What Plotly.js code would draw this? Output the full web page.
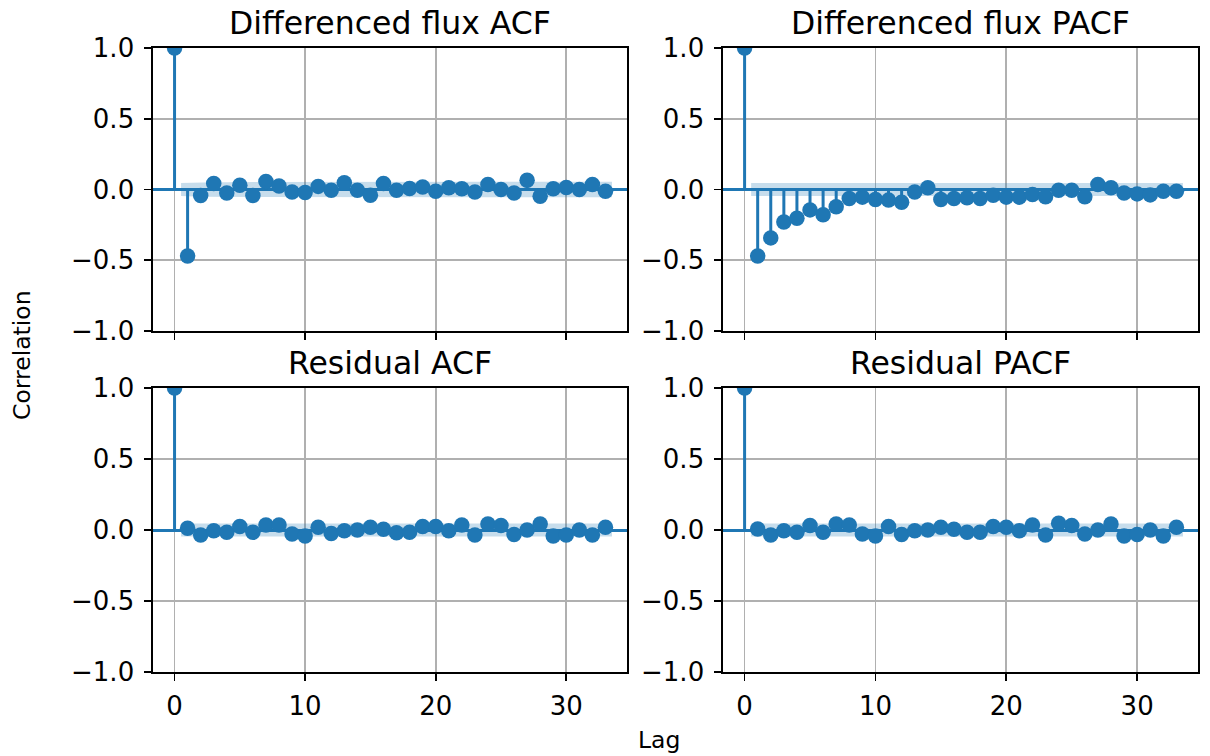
<!DOCTYPE html>
<html>
<head>
<meta charset="utf-8">
<script src="https://cdn.plot.ly/plotly-3.0.1.min.js"></script>
<style>html,body{margin:0;padding:0;background:#fff;}#chart{width:1210px;height:756px;}</style>
</head>
<body>
<div id="chart"></div>
<script>
// ---- data ----
const lags = [0,1,2,3,4,5,6,7,8,9,10,11,12,13,14,15,16,17,18,19,20,21,22,23,24,25,26,27,28,29,30,31,32,33];
const diffAcf = [1.0,-0.47,-0.042,0.042,-0.024,0.03,-0.042,0.057,0.024,-0.017,-0.021,0.022,-0.005,0.047,-0.005,-0.04,0.042,-0.005,0.007,0.017,-0.012,0.012,0.005,-0.017,0.035,0.0,-0.024,0.066,-0.047,0.005,0.014,0.0,0.035,-0.012];
const diffPacf = [1.0,-0.47,-0.342,-0.229,-0.203,-0.144,-0.179,-0.122,-0.064,-0.054,-0.071,-0.075,-0.09,-0.017,0.012,-0.071,-0.064,-0.059,-0.064,-0.04,-0.054,-0.054,-0.035,-0.052,-0.005,-0.005,-0.052,0.035,0.012,-0.024,-0.031,-0.038,-0.012,-0.012];
const residAcf = [1.0,0.012,-0.035,-0.005,-0.016,0.024,-0.016,0.035,0.035,-0.028,-0.042,0.019,-0.024,-0.005,0.0,0.019,0.005,-0.019,-0.016,0.024,0.024,-0.005,0.035,-0.035,0.042,0.031,-0.031,0.0,0.042,-0.042,-0.035,0.0,-0.035,0.019];
const residPacf = [1.0,0.007,-0.035,-0.005,-0.016,0.031,-0.016,0.042,0.035,-0.028,-0.042,0.024,-0.031,-0.005,0.0,0.019,0.005,-0.016,-0.016,0.024,0.019,-0.005,0.035,-0.035,0.047,0.031,-0.028,0.0,0.042,-0.042,-0.031,0.0,-0.042,0.019];
// half-width of 95% confidence band for lags 1..33
const diffAcfBand = [0.046,0.052,0.052,0.052,0.052,0.052,0.053,0.053,0.053,0.053,0.053,0.053,0.053,0.053,0.053,0.053,0.054,0.054,0.054,0.054,0.054,0.054,0.054,0.054,0.054,0.054,0.054,0.054,0.055,0.055,0.055,0.055,0.055];
const diffPacfBand = [0.046,0.046,0.046,0.046,0.046,0.046,0.046,0.046,0.046,0.046,0.046,0.046,0.046,0.046,0.046,0.046,0.046,0.046,0.046,0.046,0.046,0.046,0.046,0.046,0.046,0.046,0.046,0.046,0.046,0.046,0.046,0.046,0.046];
const residAcfBand = [0.045,0.045,0.045,0.045,0.045,0.045,0.045,0.045,0.045,0.045,0.045,0.045,0.045,0.045,0.045,0.045,0.045,0.045,0.045,0.045,0.045,0.045,0.045,0.045,0.045,0.045,0.045,0.045,0.045,0.045,0.045,0.045,0.045];
const residPacfBand = [0.045,0.045,0.045,0.045,0.045,0.045,0.045,0.045,0.045,0.045,0.045,0.045,0.045,0.045,0.045,0.045,0.045,0.045,0.045,0.045,0.045,0.045,0.045,0.045,0.045,0.045,0.045,0.045,0.045,0.045,0.045,0.045,0.045];
const titles = ["Differenced flux ACF","Differenced flux PACF","Residual ACF","Residual PACF"];
const xTicks = [0,10,20,30];
const yTicks = [-1.0,-0.5,0.0,0.5,1.0];

// ---- build ----
const BLUE = '#1f77b4';
const panels = [
  {vals: diffAcf, band: diffAcfBand, xa:'x', ya:'y'},
  {vals: diffPacf, band: diffPacfBand, xa:'x2', ya:'y2'},
  {vals: residAcf, band: residAcfBand, xa:'x3', ya:'y3'},
  {vals: residPacf, band: residPacfBand, xa:'x4', ya:'y4'}
];
const traces = [];
panels.forEach(p => {
  const bl = lags.slice(1).map((v,i,a)=> i===0 ? v-0.5 : (i===a.length-1 ? v+0.5 : v));
  const bx = bl.concat(bl.slice().reverse());
  const by = p.band.map(b=>b).concat(p.band.slice().reverse().map(b=>-b));
  traces.push({x: bx, y: by, xaxis:p.xa, yaxis:p.ya, type:'scatter', mode:'lines',
    fill:'toself', fillcolor:'rgba(31,119,180,0.25)', line:{width:0, color:'rgba(0,0,0,0)'}, hoverinfo:'skip', showlegend:false});
  const sx = [], sy = [];
  lags.forEach((l,i)=>{ sx.push(l,l,null); sy.push(0,p.vals[i],null); });
  traces.push({x:sx, y:sy, xaxis:p.xa, yaxis:p.ya, type:'scatter', mode:'lines',
    line:{color:BLUE, width:3}, showlegend:false, hoverinfo:'skip'});
  traces.push({x:lags, y:p.vals, xaxis:p.xa, yaxis:p.ya, type:'scatter', mode:'markers',
    marker:{color:BLUE, size:15.5}, showlegend:false, cliponaxis:true});
});

const W = 1210, H = 756;
const xDom = [[153/W, 627/W],[723/W, 1198/W]];
const yDom = [[1-331/H, 1-48/H],[1-672/H, 1-388/H]];
const TICKFONT = {family:'DejaVu Sans', size:26, color:'#000'};

function xaxis(dom, showLabels, anchor){
  return {domain: dom, range:[-1.65,34.65], anchor: anchor, tickvals: xTicks, ticktext: xTicks.map(String),
    showticklabels: showLabels, ticks:'outside', ticklen:7, tickwidth:1.6, tickcolor:'#000',
    showline:true, linecolor:'#000', linewidth:1.6, mirror:true,
    showgrid:true, gridcolor:'#b0b0b0', gridwidth:1.6, zeroline:false,
    tickfont:TICKFONT, ticklabelstandoff:3};
}
function yaxis(dom, anchor){
  return {domain: dom, range:[-1,1], anchor: anchor, tickvals: yTicks, ticktext: yTicks.map(v=> (v<0?'\u2212':'') + Math.abs(v).toFixed(1)),
    ticks:'outside', ticklen:7, tickwidth:1.6, tickcolor:'#000',
    showline:true, linecolor:'#000', linewidth:1.6, mirror:true,
    showgrid:true, gridcolor:'#b0b0b0', gridwidth:1.6,
    zeroline:true, zerolinecolor:BLUE, zerolinewidth:3,
    tickfont:TICKFONT, ticklabelstandoff:5};
}

const annotations = [];
const pos = [[0,0],[1,0],[0,1],[1,1]];
pos.forEach((p,i)=>{
  annotations.push({text: titles[i], xref:'paper', yref:'paper',
    x:(xDom[p[0]][0]+xDom[p[0]][1])/2, y: yDom[p[1]][1], xanchor:'center', yanchor:'bottom', yshift:5,
    showarrow:false, font:{family:'DejaVu Sans', size:31.5, color:'#000'}});
});
annotations.push({text:'Lag', xref:'paper', yref:'paper', x:659/W, y:1-740/H, xanchor:'center', yanchor:'middle',
  showarrow:false, font:{family:'DejaVu Sans', size:23.5, color:'#000'}});
annotations.push({text:'Correlation', xref:'paper', yref:'paper', x:22/W, y:1-355/H, xanchor:'center', yanchor:'middle',
  textangle:-90, showarrow:false, font:{family:'DejaVu Sans', size:23.5, color:'#000'}});

const layout = {
  width: W, height: H, margin:{l:0,r:0,t:0,b:0}, paper_bgcolor:'#fff', plot_bgcolor:'#fff',
  showlegend:false, font:{family:'DejaVu Sans'},
  xaxis: xaxis(xDom[0], false, 'y'), yaxis: yaxis(yDom[0], 'x'),
  xaxis2: xaxis(xDom[1], false, 'y2'), yaxis2: yaxis(yDom[0], 'x2'),
  xaxis3: xaxis(xDom[0], true, 'y3'), yaxis3: yaxis(yDom[1], 'x3'),
  xaxis4: xaxis(xDom[1], true, 'y4'), yaxis4: yaxis(yDom[1], 'x4'),
  annotations: annotations
};
Plotly.newPlot('chart', traces, layout, {staticPlot:true, displayModeBar:false});
</script>
</body>
</html>
